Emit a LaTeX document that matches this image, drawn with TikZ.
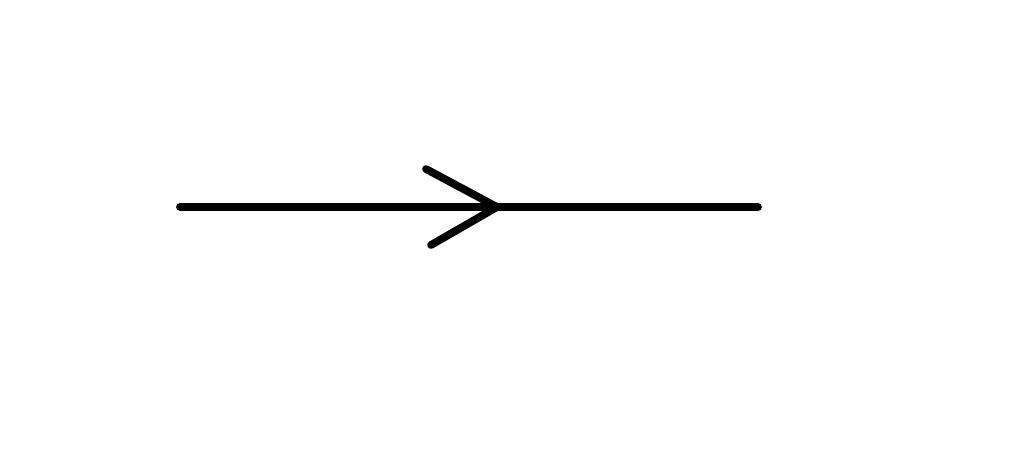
\documentclass[tikz,border=0pt]{standalone}
\usepackage{tikz}

\begin{document}
\begin{tikzpicture}[x=0.02cm,y=-0.02cm]
    \tikzstyle{wire} = [black,line width=4.4pt,line cap=round,line join=round];

    \useasboundingbox (0,0) rectangle (1024,468);

    \coordinate (start) at (180,207);
    \coordinate (finish) at (758,207);
    \coordinate (tip) at (497,207);
    \coordinate (armup) at (426,169);
    \coordinate (armdown) at (431,245);

    \draw[wire] (start) -- (finish);
    \draw[wire] (armup) -- (tip) -- (armdown);
\end{tikzpicture}
\end{document}
